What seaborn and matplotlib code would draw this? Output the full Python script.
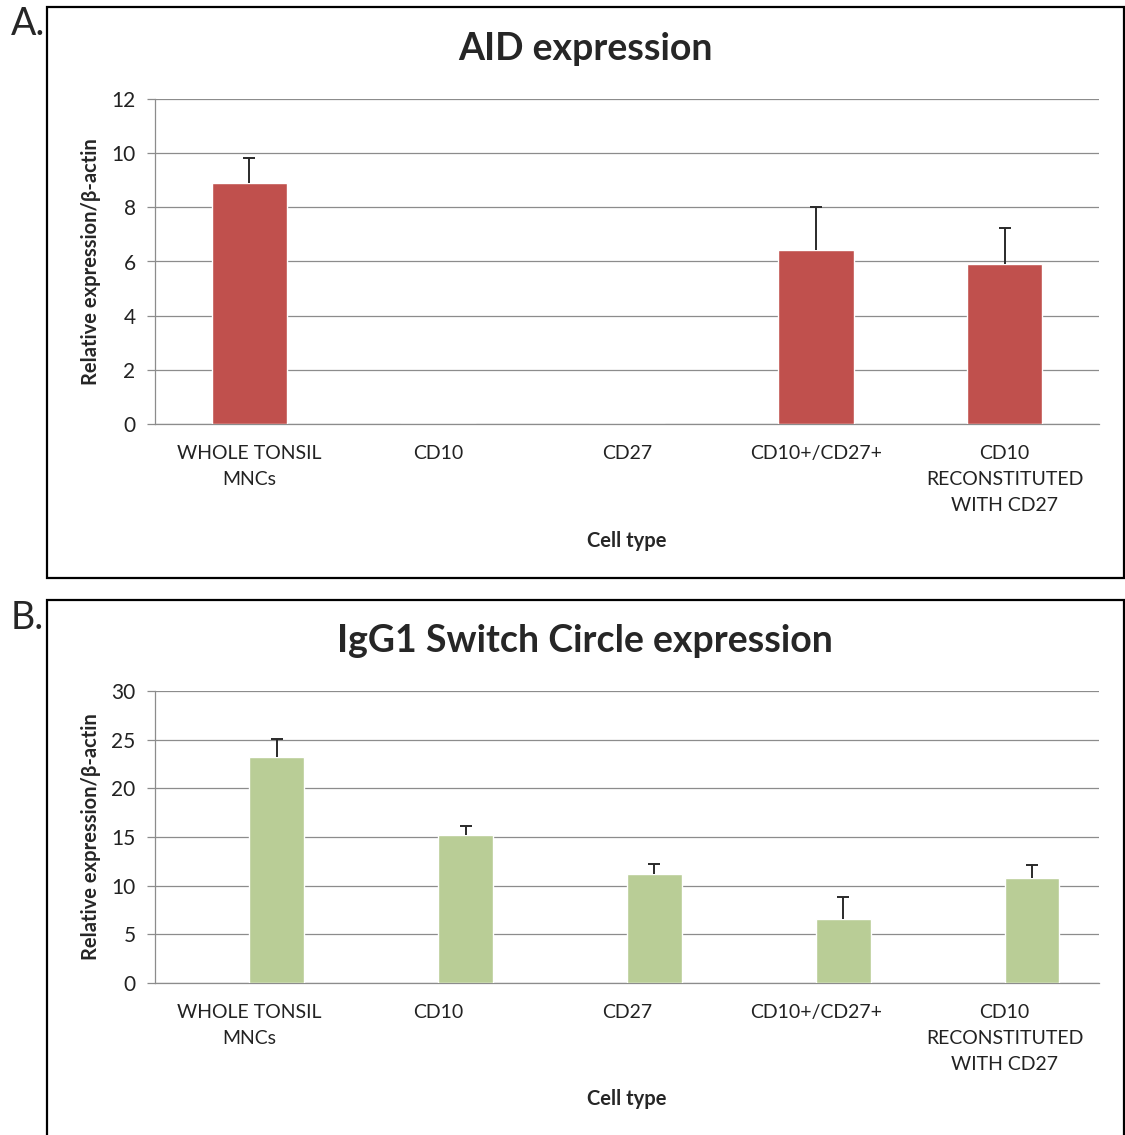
import matplotlib
matplotlib.use('Agg')
import matplotlib.pyplot as plt
from matplotlib.patches import Rectangle
import numpy as np
import pandas as pd
import seaborn as sns

# bar data
cell_types = ['WHOLE TONSIL\nMNCs', 'CD10', 'CD27', 'CD10+/CD27+',
              'CD10\nRECONSTITUTED\nWITH CD27']
aid_values = [8.9, 0, 0, 6.42, 5.9]
aid_errors = [0.92, 0, 0, 1.6, 1.33]
igg1_values = [23.2, 15.2, 11.2, 6.6, 10.8]
igg1_errors = [1.9, 0.9, 1.0, 2.2, 1.3]

sns.set_theme(style='white')
plt.rcParams['font.family'] = ['Lato', 'DejaVu Sans']

W, H = 1125, 1135
fig = plt.figure(figsize=(W / 100, H / 100), dpi=100)


def px_axes(left, top, right, bottom):
    '''Axes from pixel coordinates of the reference.'''
    return fig.add_axes([left / W, 1 - bottom / H, (right - left) / W, (bottom - top) / H])


def draw_panel(ax, values, errors, color, width, ymax, step, xlabel_y, blank_series=False):
    df = pd.DataFrame({'cell type': cell_types, 'value': values, 'series': 'data'})
    if blank_series:
        # the original chart had an empty first series, pushing bars right
        blank = pd.DataFrame({'cell type': cell_types, 'value': np.nan, 'series': 'blank'})
        df = pd.concat([blank, df], ignore_index=True)
        sns.barplot(data=df, x='cell type', y='value', hue='series',
                    hue_order=['blank', 'data'], palette=['white', color],
                    width=width, saturation=1, ax=ax, zorder=3, legend=False)
        offset = width / 4
    else:
        sns.barplot(data=df, x='cell type', y='value', color=color, width=width,
                    saturation=1, ax=ax, zorder=3)
        offset = 0
    idx = [i for i, e in enumerate(errors) if e > 0]
    eb = ax.errorbar([i + offset for i in idx], [values[i] for i in idx],
                     yerr=[[0] * len(idx), [errors[i] for i in idx]],
                     fmt='none', ecolor='#2a2a2a', elinewidth=1.4, capsize=4,
                     capthick=1.4, zorder=4)
    # only the upper cap, like the original
    eb[1][0].set_visible(False)
    ax.set_ylim(0, ymax)
    ax.set_xlim(-0.5, len(cell_types) - 0.5)
    ax.set_yticks(range(0, ymax + 1, step))
    ax.yaxis.grid(True, color='#8c8c8c', linewidth=0.9)
    ax.set_axisbelow(True)
    for s in ['top', 'right']:
        ax.spines[s].set_visible(False)
    for s in ['left', 'bottom']:
        ax.spines[s].set_color('#8c8c8c')
        ax.spines[s].set_linewidth(0.9)
    ax.tick_params(axis='y', length=6, color='#8c8c8c', width=0.9, labelsize=15,
                   labelcolor='#222222', left=True, pad=8)
    ax.tick_params(axis='x', length=0, labelsize=14, labelcolor='#222222', pad=15)
    for lab in ax.get_xticklabels():
        lab.set_linespacing(1.65)
    ax.set_xlabel('Cell type', fontsize=14.5, fontweight='bold')
    ax.xaxis.set_label_coords(0.5, xlabel_y)
    ax.set_ylabel('Relative expression/β-actin', fontsize=14.5, fontweight='bold')
    ax.yaxis.set_label_coords(-0.057, 0.5)


# panel A
ax_a = px_axes(155, 99, 1099, 424)
draw_panel(ax_a, aid_values, aid_errors, '#C0504D', 0.4, 12, 2, -0.33)
fig.text(585 / W, 1 - 49 / H, 'AID expression', ha='center', va='center',
         fontsize=27, fontweight='bold')

# panel B
ax_b = px_axes(155, 691, 1099, 983)
draw_panel(ax_b, igg1_values, igg1_errors, '#B9CD96', 0.58, 30, 5, -0.363,
           blank_series=True)
fig.text(585 / W, 1 - 641 / H, 'IgG1 Switch Circle expression', ha='center',
         va='center', fontsize=27, fontweight='bold')

# panel frames and letters
fig.patches.append(Rectangle((47 / W, 1 - 578 / H), 1077 / W, 571 / H,
                             transform=fig.transFigure, fill=False,
                             edgecolor='black', linewidth=1.6))
fig.patches.append(Rectangle((47 / W, -0.01), 1077 / W, 1 - 600 / H + 0.01,
                             transform=fig.transFigure, fill=False,
                             edgecolor='black', linewidth=1.6))
fig.text(11 / W, 1 - 24 / H, 'A.', ha='left', va='center', fontsize=27)
fig.text(11 / W, 1 - 618 / H, 'B.', ha='left', va='center', fontsize=27)

fig.savefig('out.png', dpi=100)
